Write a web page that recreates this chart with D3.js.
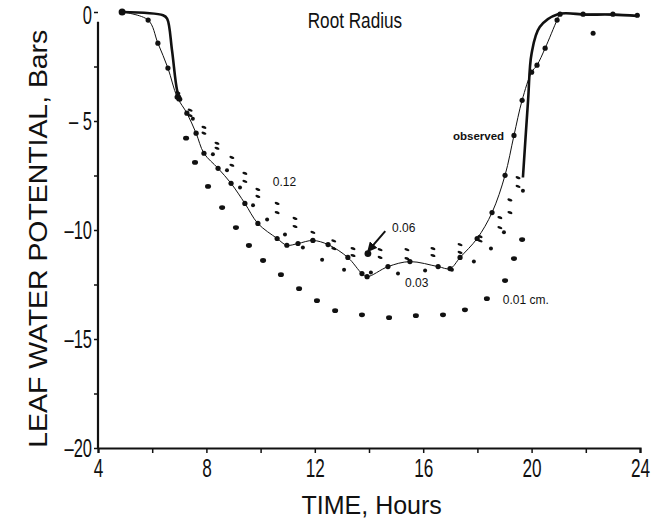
<!DOCTYPE html>
<html>
<head>
<meta charset="utf-8">
<script src="https://cdn.jsdelivr.net/npm/d3@7"></script>
<style>
  body { margin: 0; background: #fff; }
  .tick text { font-family: "Liberation Sans", Arial, sans-serif; }
  .note { font-family: "Liberation Sans", Arial, sans-serif; fill: #111; }
</style>
</head>
<body>
<div class="graph"></div>
<script>
// observed curve (thin line with dots)
const obsHours = [4.89, 5.85, 6.21, 6.58, 6.92, 7.28, 7.62, 7.91, 8.43, 8.91, 9.42, 9.90, 10.61, 10.97, 11.38, 11.93, 12.49, 13.22, 13.74, 13.93, 14.70, 15.51, 16.55, 16.99, 17.36, 17.99, 18.54, 19.02, 19.35, 19.65, 20.0, 20.2, 20.5, 20.94, 21.05, 21.9, 23.0, 23.9];
const obsValues = [0, -0.37, -1.43, -2.57, -3.9, -4.64, -5.56, -6.48, -7.17, -7.86, -8.78, -9.70, -10.39, -10.7, -10.62, -10.48, -10.67, -11.26, -12.0, -12.14, -11.68, -11.45, -11.68, -11.77, -11.26, -10.39, -9.2, -7.49, -5.66, -4.05, -2.76, -2.44, -1.66, -0.37, -0.1, -0.1, -0.1, -0.15];

// heavy line, morning and evening
const amHours = [4.89, 6.4, 6.55, 6.73, 6.92, 7.05];
const amValues = [0, -0.15, -0.3, -1.75, -3.6, -4.1];
const pmHours = [19.68, 19.87, 20.0, 20.3, 20.97, 22.0, 23.0, 23.9];
const pmValues = [-7.59, -4.05, -1.9, -0.69, -0.1, -0.12, -0.12, -0.18];

// simulated root radius runs
const r012Hours = [6.95, 7.4, 7.91, 8.39, 8.94, 9.42, 9.90, 10.61, 11.27, 11.93, 12.7, 13.41, 14.41, 15.40, 16.36, 17.36, 18.1, 18.83, 19.2, 19.5];
const r012Values = [-3.7, -4.5, -5.29, -6.02, -6.67, -7.40, -8.14, -8.78, -9.47, -10.11, -10.5, -10.85, -10.90, -10.90, -10.85, -10.67, -10.3, -9.43, -8.62, -7.6];
const r006Values = [-3.8, -4.75, -5.56, -6.25, -7.03, -7.77, -8.46, -9.20, -9.84, -10.48, -10.85, -11.17, -11.26, -11.31, -11.17, -11.03, -10.5, -9.89, -9.2, -8.0];

const r003Hours = [7.0, 7.5, 8.24, 8.76, 9.24, 9.72, 10.24, 10.90, 11.56, 12.27, 13.08, 14.07, 15.07, 16.07, 17.06, 17.87, 18.50, 18.98, 19.68];
const r003Values = [-3.9, -4.9, -6.53, -7.26, -8.05, -8.87, -9.52, -10.21, -10.80, -11.36, -11.82, -11.95, -12.0, -11.86, -11.82, -11.45, -10.85, -10.1, -8.2];

const r001Hours = [7.0, 7.25, 7.58, 8.06, 8.58, 9.09, 9.57, 10.09, 10.75, 11.42, 12.08, 12.75, 13.74, 14.74, 15.73, 16.73, 17.54, 18.35, 19.02, 19.35, 19.65];
const r001Values = [-4.0, -5.79, -6.9, -8.0, -8.97, -9.89, -10.71, -11.40, -12.05, -12.69, -13.24, -13.70, -13.89, -14.02, -13.93, -13.89, -13.66, -13.15, -12.32, -11.31, -10.44];

const strayHour = [22.27];
const strayValue = [-0.97];

const xTicks = [4, 8, 12, 16, 20, 24];
const yTicks = [0, -5, -10, -15, -20];

const width = 660;
const height = 519;
const narrow = 0.66; // squeeze for the condensed tick font

let x = d3.scaleLinear().domain([4, 24]).range([98, 640]);
let y = d3.scaleLinear().domain([-20, 0]).range([448, 12]);

let svg = d3.select('.graph').append('svg')
  .attr('width', width)
  .attr('height', height);

svg.append('defs').append('marker')
  .attr('id', 'arrow')
  .attr('viewBox', '0 0 10 10')
  .attr('refX', 8).attr('refY', 5)
  .attr('markerWidth', 5).attr('markerHeight', 5)
  .attr('orient', 'auto')
  .append('path')
  .attr('d', 'M0,0 L10,5 L0,10 z')
  .attr('fill', '#111');

/* axes */
let xAxis = svg.append('g')
  .attr('transform', 'translate(0,' + y(-20) + ')')
  .call(d3.axisBottom(x).tickValues(d3.range(4, 25, 2)).tickSize(5).tickFormat(d => xTicks.includes(d) ? d : ''));
xAxis.select('.domain').attr('stroke-width', 2.2).attr('stroke', '#111');
xAxis.selectAll('.tick line').attr('stroke', '#111').attr('stroke-width', 1.5);
xAxis.selectAll('.tick text')
  .attr('font-size', 26).attr('dy', '0.8em').attr('fill', '#111')
  .attr('transform', 'scale(' + narrow + ',1)');

let yAxis = svg.append('g')
  .attr('transform', 'translate(' + x(4) + ',0)')
  .call(d3.axisLeft(y).tickValues(d3.range(-20, 0.1, 2.5)).tickSize(4)
    .tickFormat(d => yTicks.includes(d) ? (d === 0 ? '0' : (d === -5 ? '\u2013 5' : '\u2013' + Math.abs(d))) : ''));
yAxis.select('.domain').remove();
yAxis.selectAll('.tick line').attr('stroke', '#111').attr('stroke-width', 1.5);
yAxis.selectAll('.tick text')
  .attr('font-size', 25).attr('x', -6 / narrow).attr('fill', '#111')
  .attr('dy', d => d === 0 ? '0.45em' : '0.32em')
  .attr('transform', 'scale(' + narrow + ',1)');

svg.append('line')
  .attr('x1', x(4)).attr('x2', x(4))
  .attr('y1', y(-0.45)).attr('y2', y(-20))
  .attr('stroke', '#111').attr('stroke-width', 2.2);

/* axis titles */
svg.append('text')
  .attr('x', x(14.1)).attr('y', 514)
  .attr('text-anchor', 'middle')
  .attr('font-family', '"Liberation Sans", Arial, sans-serif')
  .attr('font-size', 25)
  .attr('fill', '#111')
  .text('TIME, Hours');

svg.append('text')
  .attr('transform', 'translate(47,' + y(-10.4) + ') rotate(-90)')
  .attr('text-anchor', 'middle')
  .attr('font-family', '"Liberation Sans", Arial, sans-serif')
  .attr('font-size', 25)
  .attr('textLength', 418)
  .attr('lengthAdjust', 'spacingAndGlyphs')
  .attr('fill', '#111')
  .text('LEAF WATER POTENTIAL, Bars');

svg.append('text')
  .attr('transform', 'translate(' + x(13.48) + ',' + y(-0.73) + ') scale(0.78,1)')
  .attr('text-anchor', 'middle')
  .attr('font-family', '"Liberation Sans", Arial, sans-serif')
  .attr('font-size', 22)
  .attr('fill', '#111')
  .text('Root Radius');

/* lines */
let line = d3.line().x(d => x(d[0])).y(d => y(d[1])).curve(d3.curveCatmullRom.alpha(0.5));

svg.append('path')
  .datum(d3.zip(obsHours, obsValues))
  .attr('d', line)
  .attr('fill', 'none').attr('stroke', '#111').attr('stroke-width', 1);

svg.append('path')
  .datum(d3.zip(amHours, amValues))
  .attr('d', line)
  .attr('fill', 'none').attr('stroke', '#111').attr('stroke-width', 2.6);

svg.append('path')
  .datum(d3.zip(pmHours, pmValues))
  .attr('d', line)
  .attr('fill', 'none').attr('stroke', '#111').attr('stroke-width', 2.6);

/* point series */
svg.append('g').selectAll('circle')
  .data(d3.zip(obsHours, obsValues).slice(1))
  .enter().append('circle')
  .attr('cx', d => x(d[0])).attr('cy', d => y(d[1]))
  .attr('r', 2.6).attr('fill', '#111');

svg.append('circle')
  .attr('cx', x(obsHours[0])).attr('cy', y(obsValues[0]))
  .attr('r', 3.5).attr('fill', '#111');

svg.append('g').selectAll('ellipse')
  .data(d3.zip(r001Hours, r001Values))
  .enter().append('ellipse')
  .attr('cx', d => x(d[0])).attr('cy', d => y(d[1]))
  .attr('rx', 3).attr('ry', 2.4).attr('fill', '#111');

svg.append('g').selectAll('circle')
  .data(d3.zip(r003Hours, r003Values))
  .enter().append('circle')
  .attr('cx', d => x(d[0])).attr('cy', d => y(d[1]))
  .attr('r', 2).attr('fill', '#111');

[r012Values, r006Values].forEach(vals => {
  svg.append('g').selectAll('ellipse')
    .data(d3.zip(r012Hours, vals))
    .enter().append('ellipse')
    .attr('transform', d => 'translate(' + x(d[0]) + ',' + y(d[1]) + ') rotate(20)')
    .attr('rx', 2.6).attr('ry', 1.3).attr('fill', '#111');
});

svg.append('circle')
  .attr('cx', x(strayHour[0])).attr('cy', y(strayValue[0]))
  .attr('r', 2.5).attr('fill', '#111');

/* annotations */
svg.append('line')
  .attr('x1', x(14.6)).attr('y1', y(-10.05))
  .attr('x2', x(13.98)).attr('y2', y(-10.95))
  .attr('stroke', '#111').attr('stroke-width', 2)
  .attr('marker-end', 'url(#arrow)');

svg.append('circle')
  .attr('cx', x(13.96)).attr('cy', y(-11.08))
  .attr('r', 3.4).attr('fill', '#111');

const notes = [
  ['0.12', 10.45, -8.0],
  ['0.06', 14.85, -10.1],
  ['0.03', 15.33, -12.6],
  ['0.01 cm.', 18.94, -13.4],
  ['observed', 17.1, -5.89]
];
svg.append('g').selectAll('text')
  .data(notes)
  .enter().append('text')
  .attr('class', 'note')
  .attr('x', d => x(d[1])).attr('y', d => y(d[2]))
  .attr('font-size', d => d[0] === 'observed' ? 11.5 : 12)
  .attr('font-weight', d => d[0] === 'observed' ? 'bold' : 'normal')
  .text(d => d[0]);
</script>
</body>
</html>
